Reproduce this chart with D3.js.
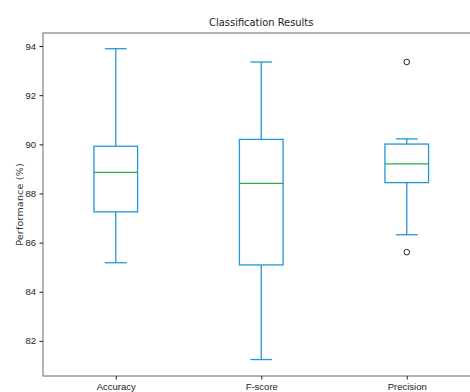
<!DOCTYPE html>
<html><head><meta charset="utf-8">
<script src="https://cdn.jsdelivr.net/npm/d3@7"></script>
<style>body{margin:0;background:#fff;}svg{display:block;font-family:"DejaVu Sans Condensed","Liberation Sans Narrow","DejaVu Sans",sans-serif;}</style>
</head><body><svg id="c" width="470" height="392"></svg>
<script>
const categories = ["Accuracy", "F-score", "Precision"];
const whiskerLow = [85.18, 81.24, 86.32];
const q1 = [87.25, 85.09, 88.44];
const median = [88.86, 88.41, 89.20];
const q3 = [89.92, 90.20, 90.01];
const whiskerHigh = [93.89, 93.35, 90.22];
const outliers = [[], [], [93.35, 85.61]];
const yTicks = [82, 84, 86, 88, 90, 92, 94];

const svg = d3.select("#c");
const mLeft = 43, mTop = 33, mBottom = 376, mRight = 479.5;
const x = d3.scaleLinear().domain([0.5, 3.5]).range([mLeft, mRight]);
const y = d3.scaleLinear().domain([80.57, 94.53]).range([mBottom, mTop]);
const blue = "#2596d6", green = "#27b047";
const bw = 0.3, cw = 0.15;

const data = categories.map((c, i) => ({c, i, lo: whiskerLow[i], q1: q1[i], med: median[i], q3: q3[i], hi: whiskerHigh[i], out: outliers[i]}));

const g = svg.append("g");
data.forEach(d => {
  const p = d.i + 1;
  g.append("line").attr("x1", x(p)).attr("x2", x(p)).attr("y1", y(d.q3)).attr("y2", y(d.hi)).attr("stroke", blue).attr("stroke-width", 1.3);
  g.append("line").attr("x1", x(p)).attr("x2", x(p)).attr("y1", y(d.q1)).attr("y2", y(d.lo)).attr("stroke", blue).attr("stroke-width", 1.3);
  [d.lo, d.hi].forEach(v => g.append("line").attr("x1", x(p - cw / 2)).attr("x2", x(p + cw / 2)).attr("y1", y(v)).attr("y2", y(v)).attr("stroke", blue).attr("stroke-width", 1.3));
  g.append("rect").attr("x", x(p - bw / 2)).attr("width", x(p + bw / 2) - x(p - bw / 2)).attr("y", y(d.q3)).attr("height", y(d.q1) - y(d.q3)).attr("fill", "none").attr("stroke", blue).attr("stroke-width", 1.3);
  g.append("line").attr("x1", x(p - bw / 2)).attr("x2", x(p + bw / 2)).attr("y1", y(d.med)).attr("y2", y(d.med)).attr("stroke", green).attr("stroke-width", 1.3);
  d.out.forEach(v => g.append("circle").attr("cx", x(p)).attr("cy", y(v)).attr("r", 2.8).attr("fill", "none").attr("stroke", "#222").attr("stroke-width", 1));
});

svg.append("rect").attr("x", mLeft).attr("y", mTop).attr("width", mRight - mLeft).attr("height", mBottom - mTop).attr("fill", "none").attr("stroke", "#666").attr("stroke-width", 1);

const yAxis = svg.append("g").attr("transform", `translate(${mLeft},0)`).call(d3.axisLeft(y).tickValues(yTicks).tickSize(3.5).tickPadding(3.5).tickFormat(d3.format("d")));
yAxis.select(".domain").remove();
yAxis.selectAll("text").attr("font-size", 9.5).attr("fill", "#222");
yAxis.selectAll("line").attr("stroke", "#222");

const xAxis = svg.append("g").attr("transform", `translate(0,${mBottom})`).call(d3.axisBottom(x).tickValues([1, 2, 3]).tickSize(3.5).tickPadding(3.5).tickFormat(d => categories[d - 1]));
xAxis.select(".domain").remove();
xAxis.selectAll("text").attr("font-size", 9.5).attr("fill", "#222");
xAxis.selectAll("line").attr("stroke", "#222");

svg.append("text").attr("x", x(2)).attr("y", 26).attr("text-anchor", "middle").attr("font-size", 11).attr("fill", "#222").text("Classification Results");
svg.append("text").attr("transform", `translate(23,${(mTop + mBottom) / 2}) rotate(-90)`).attr("text-anchor", "middle").attr("font-family", "'DejaVu Sans',sans-serif").attr("font-size", 9.5).attr("letter-spacing", 0.2).attr("fill", "#333").text("Performance (%)");
</script></body></html>
